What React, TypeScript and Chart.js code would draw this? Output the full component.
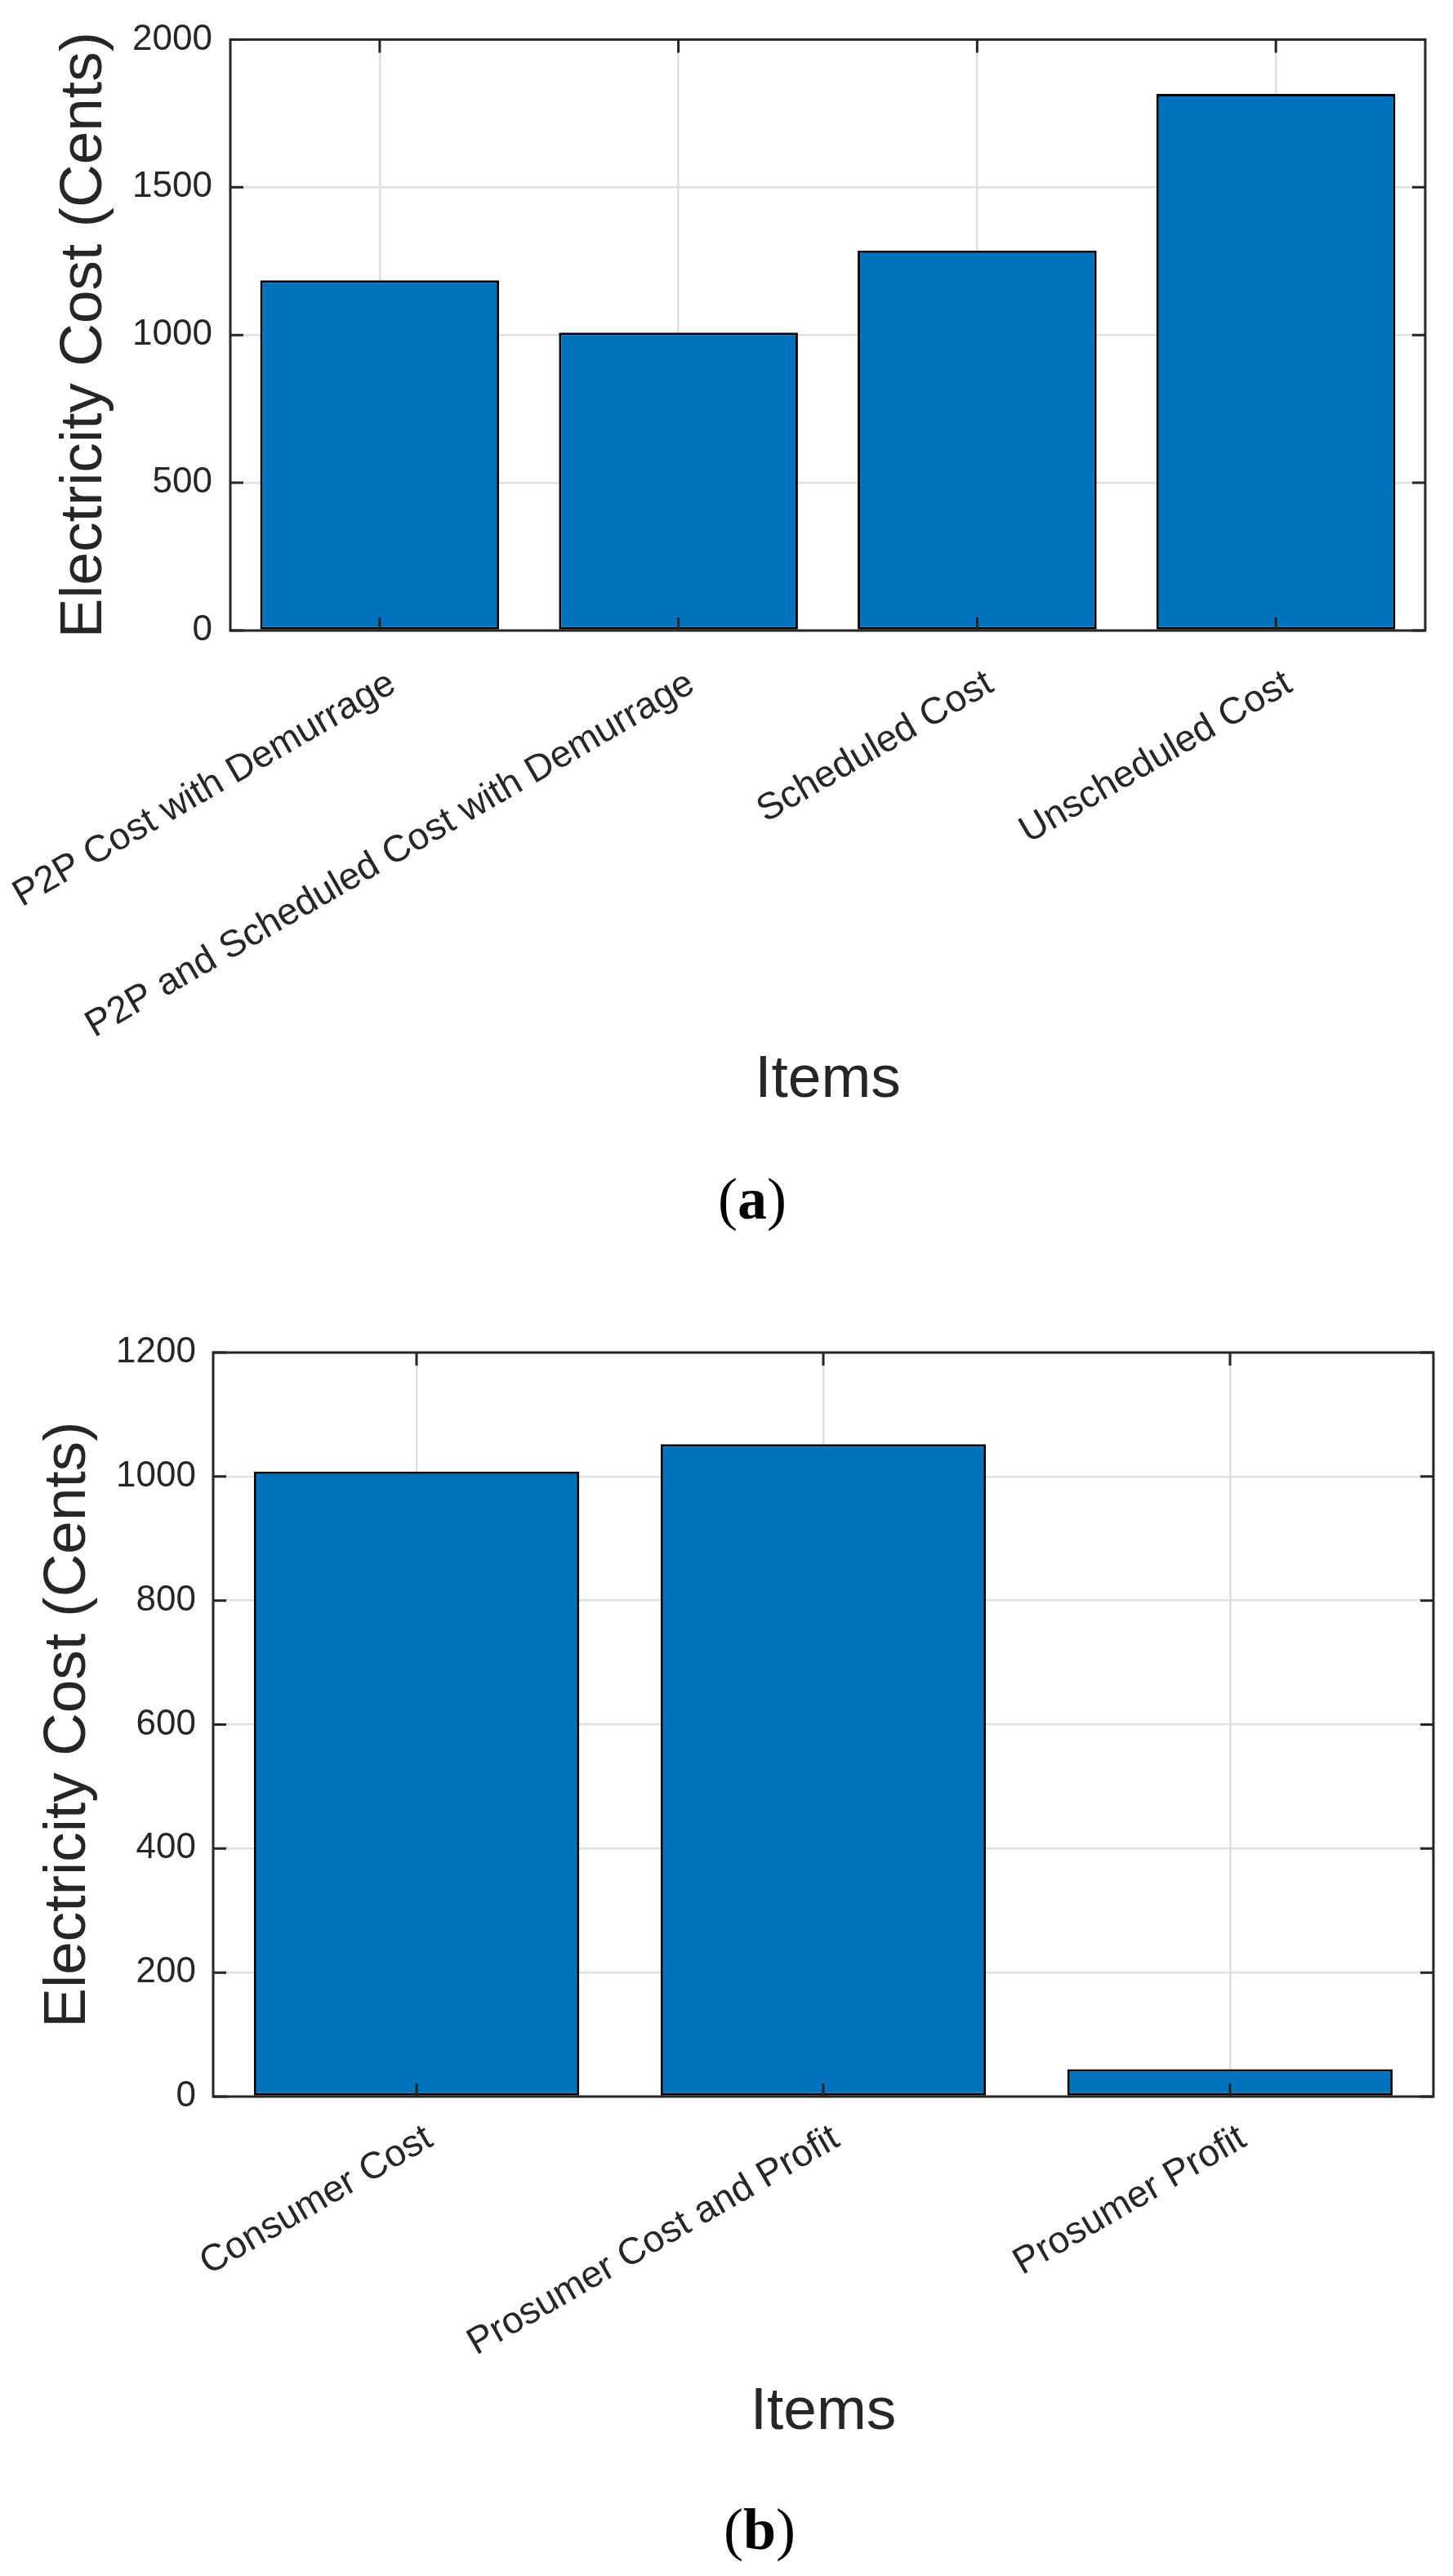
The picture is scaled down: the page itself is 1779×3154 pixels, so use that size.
import { useEffect, useRef } from "react";
import { Chart, registerables } from "chart.js";

Chart.register(...registerables);

// ─── Data ────────────────────────────────────────────────────────
const TOP_ITEMS = [
  "P2P Cost with Demurrage",
  "P2P and Scheduled Cost with Demurrage",
  "Scheduled Cost",
  "Unscheduled Cost",
];
const TOP_COSTS = [1185, 1008, 1286, 1816];
const TOP_Y_MAX = 2000;
const TOP_Y_STEP = 500;

const BOTTOM_ITEMS = ["Consumer Cost", "Prosumer Cost and Profit", "Prosumer Profit"];
const BOTTOM_COSTS = [1008, 1052, 44];
const BOTTOM_Y_MAX = 1200;
const BOTTOM_Y_STEP = 200;

const Y_TITLE = "Electricity Cost (Cents)";
const X_TITLE = "Items";

// ─── Style ───────────────────────────────────────────────────────
const BAR_BLUE = "#0072BD";
const AXIS_COLOR = "#262626";
const GRID_COLOR = "#dfdfdf";
const SANS = "'Liberation Sans', Arial, Helvetica, sans-serif";
const TICK_LEN = 16;

// Box round the plot area plus inward ticks on all four sides (MATLAB look)
const frameTicksPlugin = {
  id: "frameTicks",
  afterDatasetsDraw(chart: Chart) {
    const { ctx, chartArea: a, scales } = chart;
    const xs = scales.x;
    const ys = scales.y;
    ctx.save();
    ctx.strokeStyle = AXIS_COLOR;
    ctx.lineWidth = 3;
    ctx.beginPath();
    xs.ticks.forEach((_, i) => {
      const px = xs.getPixelForTick(i);
      ctx.moveTo(px, a.bottom);
      ctx.lineTo(px, a.bottom - TICK_LEN);
      ctx.moveTo(px, a.top);
      ctx.lineTo(px, a.top + TICK_LEN);
    });
    ys.ticks.forEach((t) => {
      const py = ys.getPixelForValue(t.value);
      ctx.moveTo(a.left, py);
      ctx.lineTo(a.left + TICK_LEN, py);
      ctx.moveTo(a.right, py);
      ctx.lineTo(a.right - TICK_LEN, py);
    });
    ctx.stroke();
    ctx.strokeRect(a.left, a.top, a.right - a.left, a.bottom - a.top);
    ctx.restore();
  },
};

type PanelProps = {
  labels: string[];
  values: number[];
  yMax: number;
  yStep: number;
  top: number;
  height: number;
  padTop: number;
  padRight: number;
  yAxisWidth: number;
  xAxisHeight: number;
  yTitlePad: number;
  xTitlePad: number;
  xTickPad: number;
  yTickPad: number;
};

function BarPanel(p: PanelProps) {
  const canvasRef = useRef<HTMLCanvasElement>(null);

  useEffect(() => {
    if (!canvasRef.current) return;
    const chart = new Chart(canvasRef.current, {
      type: "bar",
      plugins: [frameTicksPlugin],
      data: {
        labels: p.labels,
        datasets: [
          {
            data: p.values,
            backgroundColor: BAR_BLUE,
            borderColor: "#000000",
            borderWidth: 3,
            borderSkipped: false,
            barPercentage: 0.8,
            categoryPercentage: 1,
          },
        ],
      },
      options: {
        animation: false,
        responsive: true,
        maintainAspectRatio: false,
        layout: { padding: { top: p.padTop, right: p.padRight, left: 0, bottom: 0 } },
        plugins: { legend: { display: false }, tooltip: { enabled: false } },
        scales: {
          x: {
            offset: true,
            grid: { offset: false, color: GRID_COLOR, lineWidth: 2.5, drawTicks: false },
            border: { display: false },
            ticks: {
              autoSkip: false,
              minRotation: 30,
              maxRotation: 30,
              padding: p.xTickPad,
              labelOffset: 16,
              color: AXIS_COLOR,
              font: { family: SANS, size: 46 },
            },
            title: {
              display: true,
              text: X_TITLE,
              color: AXIS_COLOR,
              font: { family: SANS, size: 73, lineHeight: 1 },
              padding: { top: 0, bottom: p.xTitlePad },
            },
            afterFit: (s) => {
              s.height = p.xAxisHeight;
              // long rotated labels must not push the plot area around
              s.paddingLeft = 0;
              s.paddingRight = 0;
            },
          },
          y: {
            min: 0,
            max: p.yMax,
            grid: { color: GRID_COLOR, lineWidth: 2.5, drawTicks: false },
            border: { display: false },
            ticks: {
              stepSize: p.yStep,
              padding: p.yTickPad,
              color: AXIS_COLOR,
              font: { family: SANS, size: 44 },
              callback: (v) => String(v),
            },
            title: {
              display: true,
              text: Y_TITLE,
              color: AXIS_COLOR,
              font: { family: SANS, size: 73, lineHeight: 1 },
              padding: { top: p.yTitlePad, bottom: 0 },
            },
            afterFit: (s) => {
              s.width = p.yAxisWidth;
            },
          },
        },
      },
    });
    return () => chart.destroy();
  }, []);

  return (
    <div style={{ position: "absolute", left: 0, top: p.top, width: 1779, height: p.height }}>
      <canvas ref={canvasRef} />
    </div>
  );
}

function Caption({ letter, top, center }: { letter: string; top: number; center: number }) {
  return (
    <div
      style={{
        position: "absolute",
        left: center - 200,
        top,
        width: 400,
        textAlign: "center",
        fontFamily: "'Liberation Serif', 'Times New Roman', serif",
        fontSize: 72,
        lineHeight: "72px",
        color: "#000",
      }}
    >
      (<b>{letter}</b>)
    </div>
  );
}

export default function App() {
  return (
    <div style={{ position: "absolute", left: 0, top: 0, width: 1779, height: 3154, background: "#fff" }}>
      <BarPanel
        labels={TOP_ITEMS}
        values={TOP_COSTS}
        yMax={TOP_Y_MAX}
        yStep={TOP_Y_STEP}
        top={0}
        height={1380}
        padTop={26}
        padRight={34}
        yAxisWidth={282}
        xAxisHeight={608}
        yTitlePad={67}
        xTitlePad={21}
        xTickPad={38}
        yTickPad={22}
      />
      <Caption letter="a" top={1432} center={921} />
      <BarPanel
        labels={BOTTOM_ITEMS}
        values={BOTTOM_COSTS}
        yMax={BOTTOM_Y_MAX}
        yStep={BOTTOM_Y_STEP}
        top={1600}
        height={1400}
        padTop={56}
        padRight={24}
        yAxisWidth={261}
        xAxisHeight={433}
        yTitlePad={47}
        xTitlePad={10}
        xTickPad={24}
        yTickPad={21}
      />
      <Caption letter="b" top={3061} center={930} />
    </div>
  );
}
